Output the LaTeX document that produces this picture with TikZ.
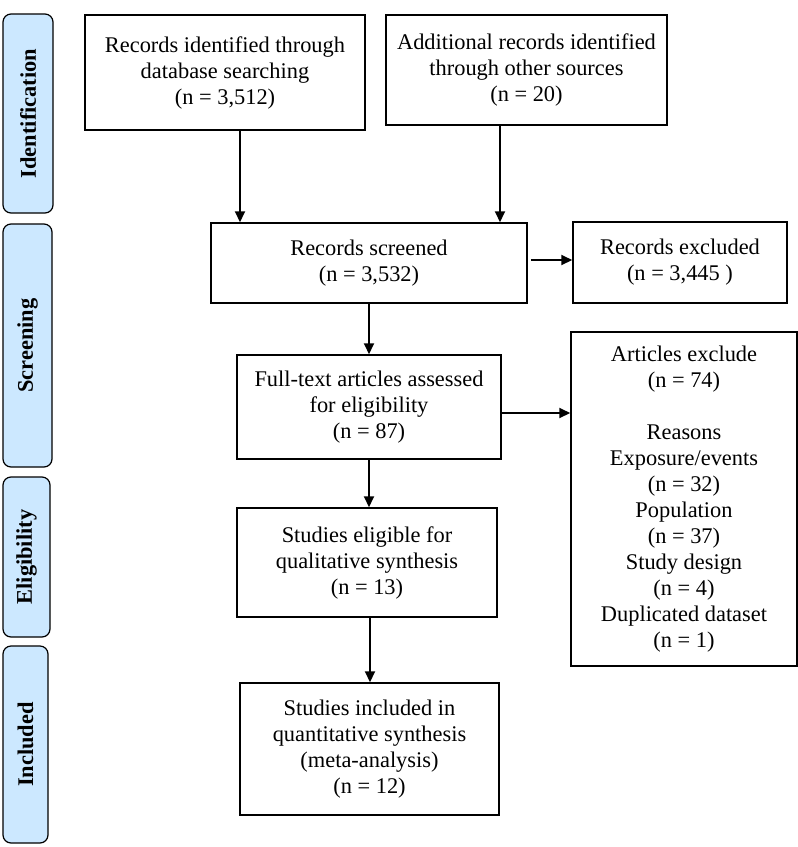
\documentclass[tikz,border=0pt]{standalone}
\usepackage{fontspec}
\setmainfont{Liberation Serif}
\usetikzlibrary{arrows.meta}
\usetikzlibrary{calc}

\definecolor{phaseblue}{HTML}{CCE8FF}

\tikzset{
  box/.style={draw, line width=0.75pt, align=center, inner sep=2pt,
    font=\fontsize{11.2}{13}\selectfont},
  phase/.style={draw, rounded corners=4pt, fill=phaseblue, rotate=90, line width=0.6pt,
    inner sep=0pt, font=\bfseries\fontsize{11.2}{13}\selectfont},
  arr/.style={line width=1pt, -{Triangle[length=5.5pt,width=5pt]}}
}

\begin{document}
\begin{tikzpicture}[x=0.5pt, y=-0.5pt]

  \useasboundingbox (0,0) rectangle (798,847);

  % phases
  \node[phase, minimum width=99.5pt, minimum height=25pt] (phId) at (28,113.5) {Identification};
  \node[phase, minimum width=121.5pt, minimum height=24.5pt] (phScr) at (27.5,345.5) {Screening};
  \node[phase, minimum width=80pt, minimum height=23.5pt] (phElig) at (26.5,557) {Eligibility};
  \node[phase, minimum width=98.5pt, minimum height=22.5pt] (phIncl) at (25.5,744.5) {Included};

  % boxes
  \node[box, minimum width=140pt, minimum height=57.5pt] (dbRec) at (225,72.5)
    {Records identified through\\database searching\\(n = 3,512)};
  \node[box, minimum width=140.5pt, minimum height=55pt] (otherRec) at (526.5,70)
    {Additional records identified\\through other sources\\(n = 20)};
  \node[box, minimum width=158pt, minimum height=40pt] (screened) at (369,263)
    {Records screened\\(n = 3,532)};
  \node[box, minimum width=107pt, minimum height=40.5pt] (excluded) at (680,262.5)
    {Records excluded\\(n = 3,445 )};
  \node[box, minimum width=132pt, minimum height=52pt] (fulltext) at (369,407)
    {Full-text articles assessed\\for eligibility\\(n = 87)};
  \node[box, minimum width=113pt, minimum height=167pt] (reasons) at (684,499)
    {Articles exclude\\(n = 74)\\[13pt]Reasons\\Exposure/events\\(n = 32)\\Population\\(n = 37)\\Study design\\(n = 4)\\Duplicated dataset\\(n = 1)};
  \node[box, minimum width=130pt, minimum height=54.5pt] (eligible) at (367,562.5)
    {Studies eligible for\\qualitative synthesis\\(n = 13)};
  \node[box, minimum width=129.5pt, minimum height=66pt] (included) at (369.5,749)
    {Studies included in\\quantitative synthesis\\(meta-analysis)\\(n = 12)};

  % arrows
  \coordinate (a1) at ($(dbRec.south)+(15,0)$);
  \coordinate (a2) at ($(otherRec.south)+(-26.5,0)$);
  \coordinate (a3) at ($(screened.east)+(3,-3)$);
  \coordinate (a4) at ($(fulltext.east)+(0,6)$);
  \coordinate (a5) at ($(eligible.south)+(3,0)$);
  \draw[arr] (a1) -- (a1 |- screened.north);
  \draw[arr] (a2) -- (a2 |- screened.north);
  \draw[arr] (a3) -- (a3 -| excluded.west);
  \draw[arr] (screened.south) -- (screened.south |- fulltext.north);
  \draw[arr] (a4) -- (a4 -| reasons.west);
  \draw[arr] (fulltext.south) -- (fulltext.south |- eligible.north);
  \draw[arr] (a5) -- (a5 |- included.north);

\end{tikzpicture}
\end{document}
